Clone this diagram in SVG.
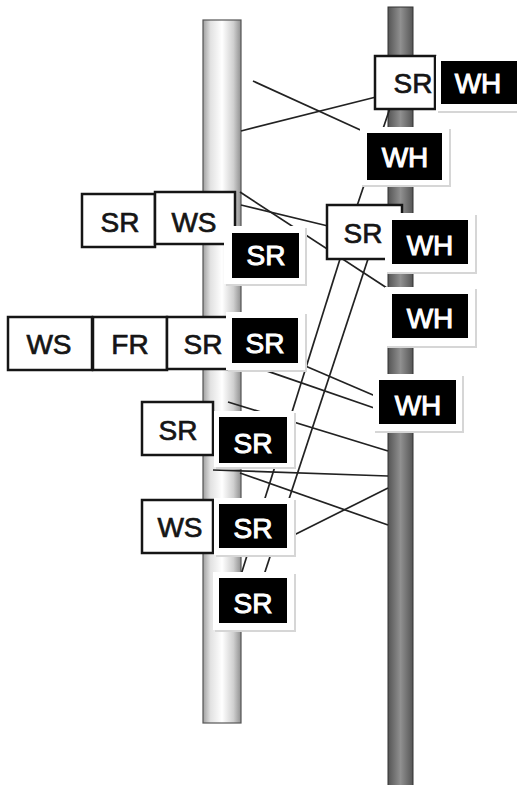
<svg xmlns="http://www.w3.org/2000/svg" width="517" height="785" viewBox="0 0 517 785">
<defs>
<linearGradient id="gl" x1="0" y1="0" x2="1" y2="0">
<stop offset="0" stop-color="#a0a0a0"/>
<stop offset="0.2" stop-color="#e2e2e2"/>
<stop offset="0.5" stop-color="#ffffff"/>
<stop offset="0.8" stop-color="#d0d0d0"/>
<stop offset="1" stop-color="#909090"/>
</linearGradient>
<linearGradient id="gr" x1="0" y1="0" x2="1" y2="0">
<stop offset="0" stop-color="#555"/>
<stop offset="0.5" stop-color="#909090"/>
<stop offset="1" stop-color="#555"/>
</linearGradient>
</defs>
<style>
.wb{fill:#fff;stroke:#151515;stroke-width:2.5}
.bb{fill:#000}
.sh{fill:#d6d6d6}
.ha{fill:#fff}
.t{font-family:"Liberation Sans",Arial,sans-serif;font-size:28px;text-anchor:middle}
.tw{fill:#151515;stroke:#151515;stroke-width:0.7}
.tb{fill:#fff;stroke:#fff;stroke-width:1}
.c{stroke:#222;stroke-width:1.7;fill:none}
</style>
<rect width="517" height="785" fill="#fff"/>
<g id="pillars">
<rect x="203" y="20" width="38" height="703" fill="url(#gl)" stroke="#555" stroke-width="1.2"/>
<rect x="388" y="7" width="25" height="790" fill="url(#gr)" stroke="#333" stroke-width="1"/>
</g>
<g id="connectors" class="c">
<line x1="253" y1="81" x2="367" y2="133"/>
<line x1="241" y1="131" x2="376" y2="97"/>
<line x1="390" y1="108" x2="357" y2="206"/>
<line x1="240" y1="192" x2="390" y2="290"/>
<line x1="241" y1="205" x2="328" y2="226"/>
<line x1="340" y1="259" x2="240" y2="578"/>
<line x1="368" y1="259" x2="263" y2="578"/>
<line x1="241" y1="362" x2="380" y2="410"/>
<line x1="296" y1="362" x2="380" y2="398"/>
<line x1="228" y1="402" x2="388" y2="451"/>
<line x1="213" y1="470" x2="388" y2="476"/>
<line x1="240" y1="473" x2="388" y2="525"/>
<line x1="288" y1="538" x2="388" y2="488"/>
</g>
<g id="n-sr-top">
<rect class="wb" x="375" y="56" width="60" height="53"/>
<text class="t tw" x="413" y="93">SR</text>
</g>
<g id="n-wh-top">
<rect class="sh" x="438" y="58" width="81" height="55"/>
<rect class="ha" x="436" y="56" width="81" height="55"/>
<rect class="bb" x="441" y="61" width="76" height="43"/>
<text class="t tb" x="478" y="93">WH</text>
</g>
<g id="n-wh-2">
<rect class="sh" x="362" y="129" width="89" height="58"/>
<rect class="ha" x="360" y="127" width="89" height="58"/>
<rect class="bb" x="367" y="133" width="75" height="47"/>
<text class="t tb" x="405" y="167">WH</text>
</g>
<g id="n-sr-ws-1">
<rect class="wb" x="82" y="194" width="73" height="53"/>
<text class="t tw" x="120" y="232">SR</text>
<rect class="wb" x="155" y="192" width="80" height="52"/>
<text class="t tw" x="194" y="232">WS</text>
</g>
<g id="n-sr-b1">
<rect class="sh" x="226" y="228" width="81" height="58"/>
<rect class="ha" x="224" y="226" width="81" height="58"/>
<rect class="bb" x="232" y="233" width="67" height="45"/>
<text class="t tb" x="266" y="265">SR</text>
</g>
<g id="n-sr-mid">
<rect class="wb" x="327" y="205" width="75" height="54"/>
<text class="t tw" x="363" y="243">SR</text>
</g>
<g id="n-wh-3">
<rect class="sh" x="387" y="215" width="90" height="59"/>
<rect class="ha" x="385" y="213" width="90" height="59"/>
<rect class="bb" x="392" y="220" width="76" height="44"/>
<text class="t tb" x="430" y="255">WH</text>
</g>
<g id="n-wh-4">
<rect class="sh" x="387" y="289" width="90" height="59"/>
<rect class="ha" x="385" y="287" width="90" height="59"/>
<rect class="bb" x="392" y="294" width="76" height="44"/>
<text class="t tb" x="430" y="328">WH</text>
</g>
<g id="n-row-ws-fr-sr">
<rect class="wb" x="8" y="317" width="84" height="53"/>
<text class="t tw" x="49" y="354">WS</text>
<rect class="wb" x="93" y="317" width="74" height="53"/>
<text class="t tw" x="130" y="354">FR</text>
<rect class="wb" x="167" y="317" width="66" height="52"/>
<text class="t tw" x="203" y="354">SR</text>
</g>
<g id="n-sr-b2">
<rect class="sh" x="228" y="314" width="79" height="58"/>
<rect class="ha" x="226" y="312" width="79" height="58"/>
<rect class="bb" x="232" y="318" width="66" height="45"/>
<text class="t tb" x="265" y="353">SR</text>
</g>
<g id="n-wh-5">
<rect class="sh" x="375" y="376" width="89" height="57"/>
<rect class="ha" x="373" y="374" width="89" height="57"/>
<rect class="bb" x="379" y="380" width="77" height="44"/>
<text class="t tb" x="418" y="415">WH</text>
</g>
<g id="n-sr-w3">
<rect class="wb" x="142" y="402" width="71" height="53"/>
<text class="t tw" x="178" y="440">SR</text>
</g>
<g id="n-sr-b3">
<rect class="sh" x="216" y="413" width="80" height="56"/>
<rect class="ha" x="214" y="411" width="80" height="56"/>
<rect class="bb" x="219" y="417" width="68" height="46"/>
<text class="t tb" x="253" y="453">SR</text>
</g>
<g id="n-ws-w4">
<rect class="wb" x="142" y="500" width="71" height="53"/>
<text class="t tw" x="180" y="537">WS</text>
</g>
<g id="n-sr-b4">
<rect class="sh" x="216" y="500" width="80" height="57"/>
<rect class="ha" x="214" y="498" width="80" height="57"/>
<rect class="bb" x="219" y="504" width="68" height="44"/>
<text class="t tb" x="253" y="538">SR</text>
</g>
<g id="n-sr-b5">
<rect class="sh" x="215" y="574" width="81" height="58"/>
<rect class="ha" x="213" y="572" width="81" height="58"/>
<rect class="bb" x="219" y="578" width="68" height="45"/>
<text class="t tb" x="253" y="613">SR</text>
</g>
</svg>
